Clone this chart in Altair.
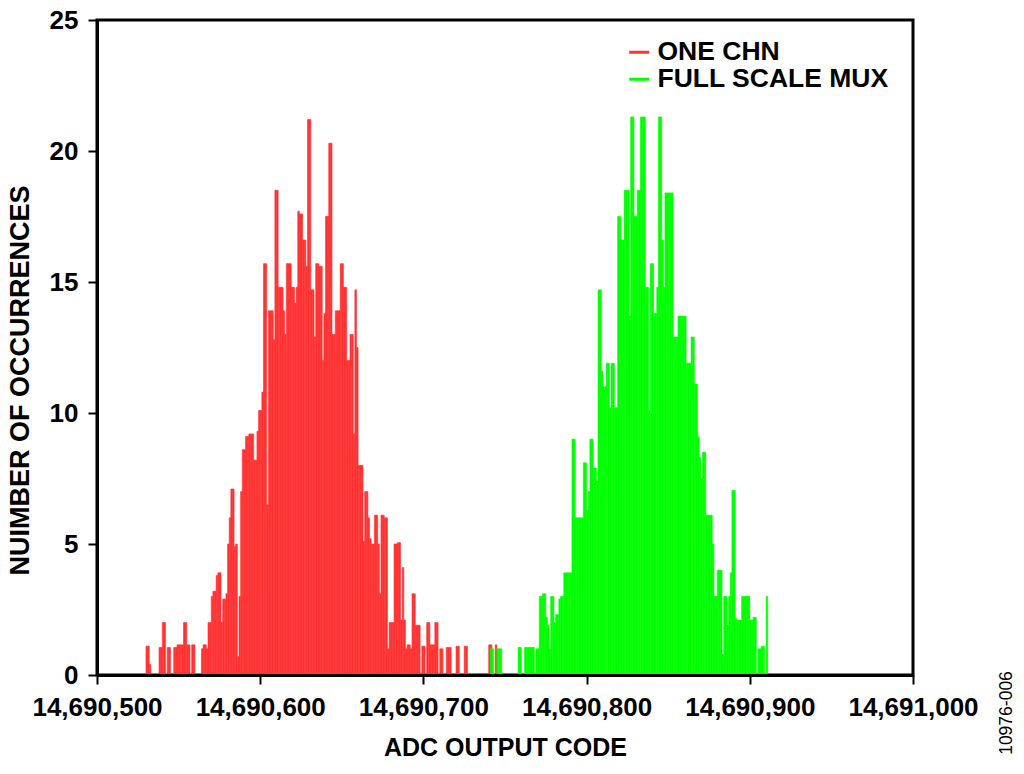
import altair as alt
import pandas as pd

# ---- data (counts per ADC code) ----
series_names = ["ONE CHN", "FULL SCALE MUX"]
series_colors = ["#ff3333", "#00ff00"]

red_start = 14690530
red_counts = [
    1.1, 1.1, 0.4,
    0, 0, 0, 0, 0,
    1.05, 1.05, 2.0, 2.0, 0, 1.05, 1.05,
    0, 0,
    1.05, 1.05, 1.15, 1.15, 1.15, 1.15, 2.0, 2.0, 1.15, 1.15, 0, 1.15, 1.15,
    0, 0, 0, 0,
    1.0, 1.15, 1.15, 1.0, 2.0, 2.0, 3.0, 3.2, 3.2, 3.8, 3.9, 3.9, 2.0, 2.9, 2.9, 3.1,
    5.0, 6.0, 7.1, 7.1, 4.9, 5.0, 0.7, 3.0, 7.0,
    8.6, 8.6, 9.1, 9.1, 9.2, 9.2, 9.2, 8.2, 8.2, 9.3, 10.1, 10.1, 10.8,
    15.7, 15.7, 6.5, 13.9, 13.9, 13.9, 12.8, 18.5, 18.5, 14.8, 14.8, 14.8, 13.9,
    13.0, 15.7, 15.7, 15.7, 14.8, 14.8, 14.2, 14.8,
    17.7, 17.6, 17.6, 16.6, 16.6, 15.6, 21.2, 21.2, 14.7, 14.7, 12.9, 15.7, 15.7,
    15.6, 15.6, 12.0, 13.8, 17.5, 17.5, 20.3, 20.3, 13.0, 13.0, 13.9, 13.9, 13.9,
    15.7, 15.7, 14.8, 14.8, 12.0, 12.0, 13.0, 13.0, 9.2, 14.7, 12.5,
    8.0, 8.0, 8.0, 5.1, 7.0, 7.0, 6.0, 5.2, 5.0, 5.0, 6.1, 6.1, 5.0, 3.1, 6.1, 6.1,
    6.0, 6.0, 1.0, 2.0, 2.0, 2.0, 5.0, 5.0, 5.05, 5.05, 2.1, 4.1, 2.1, 1.0, 1.15,
    1.15, 1.0, 3.1, 3.1, 1.9, 1.9, 1.9,
    0, 1.1, 1.1, 0, 2.0, 2.0, 1.15, 1.15, 1.15, 2.0, 2.0, 0, 1.0, 1.0, 0, 0, 1.05,
    1.05, 1.05, 0, 0, 0, 1.1, 1.1, 0, 0, 0, 1.1, 1.1,
    0, 0, 0, 0, 0, 0, 0, 0, 0, 0, 0, 0, 0,
    1.15, 1.15, 0, 0, 1.15,
]

green_start = 14690741
green_counts = [
    1.0, 1.0, 0, 0, 1.0, 1.0, 1.0,
    0, 0, 0, 0, 0, 0, 0, 0, 0, 0,
    1.05, 1.05, 0, 0, 1.05, 1.05, 1.05, 1.05, 1.05, 1.05, 0, 1.0, 1.0,
    3.0, 3.0, 3.1, 3.1, 2.2, 1.9, 1.0, 3.0, 3.0, 2.0, 2.3, 2.3, 2.9, 3.0, 3.0,
    3.9, 3.9, 3.9, 3.9, 3.9,
    9.0, 9.0, 6.0, 6.0, 6.0, 6.0, 6.0, 8.1, 8.1, 6.3, 7.0, 9.0, 9.0, 7.9, 7.9, 7.4,
    14.7, 14.7, 11.6, 11.0, 11.0, 11.9, 11.9, 10.2, 11.9, 11.9, 10.2, 10.2, 17.5,
    17.5, 16.6, 16.6, 18.5, 18.5, 18.5, 13.7, 21.3, 21.3, 17.5, 17.5, 18.5, 18.5,
    21.3, 21.3, 21.3, 14.8, 14.8, 10.1, 15.7, 15.7, 13.8, 13.8,
    14.8, 21.3, 21.3, 16.6, 14.8, 18.4, 18.4, 18.4, 18.4, 18.4, 12.9, 12.9, 12.9,
    13.7, 13.7, 13.7, 13.7, 13.7, 11.9, 11.9, 11.9, 12.9, 12.9, 11.1, 11.1, 9.1,
    8.3, 7.5, 8.5, 8.5,
    6.1, 6.1, 6.1, 6.1, 5.0, 3.0, 3.0, 4.0, 4.0, 4.0, 0.8, 3.0, 3.0, 1.9, 3.0, 3.9,
    7.05, 7.05, 2.15, 2.1, 2.1, 2.1, 3.0, 3.0, 3.0, 3.0, 3.0, 2.1, 2.1, 2.2, 2.2,
    0, 1.0, 1.0, 1.1, 1.1, 0, 3.0,
]

x_ticks = [14690500, 14690600, 14690700, 14690800, 14690900, 14691000]
y_ticks = [0, 5, 10, 15, 20, 25]
figure_id = ["10976-006"]

# ---- table ----
rows = []
for name, start, counts in ((series_names[0], red_start, red_counts),
                            (series_names[1], green_start, green_counts)):
    for i, c in enumerate(counts):
        if c > 0:
            rows.append({"series": name, "code": start + i,
                         "code_end": start + i + 1, "count": c})
df = pd.DataFrame(rows)

FONT = "Liberation Sans"
color_scale = alt.Scale(domain=series_names, range=series_colors)

bars = alt.Chart(df).mark_bar(strokeWidth=0.6).encode(
    x=alt.X("code:Q",
            scale=alt.Scale(domain=[x_ticks[0], x_ticks[-1]], nice=False, zero=False),
            axis=alt.Axis(values=x_ticks, format=",d", title="ADC OUTPUT CODE",
                          labelFont=FONT, labelFontSize=26, labelFontWeight="bold",
                          labelColor="black", labelBaseline="alphabetic",
                          labelPadding=31, labelFlush=False, labelOverlap=False,
                          tickSize=9, tickWidth=2, tickColor="black",
                          domainColor="black", domainWidth=3, grid=False,
                          titleFont=FONT, titleFontSize=25, titleFontWeight="bold",
                          titleColor="black", titleBaseline="alphabetic",
                          titleY=80, zindex=1)),
    x2="code_end:Q",
    y=alt.Y("count:Q",
            scale=alt.Scale(domain=[y_ticks[0], y_ticks[-1]], nice=False),
            axis=alt.Axis(values=y_ticks, title="NUIMBER OF OCCURRENCES",
                          labelFont=FONT, labelFontSize=26, labelFontWeight="bold",
                          labelColor="black", labelPadding=10, labelFlush=False,
                          labelOverlap=False,
                          tickSize=9, tickWidth=2, tickColor="black",
                          domainColor="black", domainWidth=3, grid=False,
                          titleFont=FONT, titleFontSize=27, titleFontWeight="bold",
                          titleColor="black", titleAngle=270,
                          titleBaseline="alphabetic", titleAlign="center",
                          titleX=-69, titleY=360, zindex=1)),
    y2=alt.datum(0),
    color=alt.Color("series:N", scale=color_scale,
                    legend=alt.Legend(title=None, orient="none", legendX=529,
                                      legendY=19,
                                      symbolType="M-1,-0.15H1V0.15H-1Z",
                                      symbolSize=400, symbolStrokeWidth=0,
                                      labelFont=FONT, labelFontSize=26.5,
                                      labelFontWeight="bold", labelColor="black",
                                      labelOffset=5, labelLimit=400,
                                      rowPadding=0, padding=0)),
    stroke=alt.Stroke("series:N", scale=color_scale, legend=None),
)

fig_text = alt.Chart(pd.DataFrame({"label": figure_id})).mark_text(
    angle=270, fontSize=17.5, font=FONT, color="black", align="center",
    baseline="middle"
).encode(x=alt.value(910), y=alt.value(693), text="label:N")

chart = alt.layer(bars, fig_text).properties(
    width=816, height=655,
    padding={"left": 89, "top": 12, "right": 103, "bottom": 90},
    autosize=alt.AutoSizeParams(type="none"),
).configure_view(stroke="black", strokeWidth=3)

chart.save("out.html", embed_options={"renderer": "svg", "actions": False})
